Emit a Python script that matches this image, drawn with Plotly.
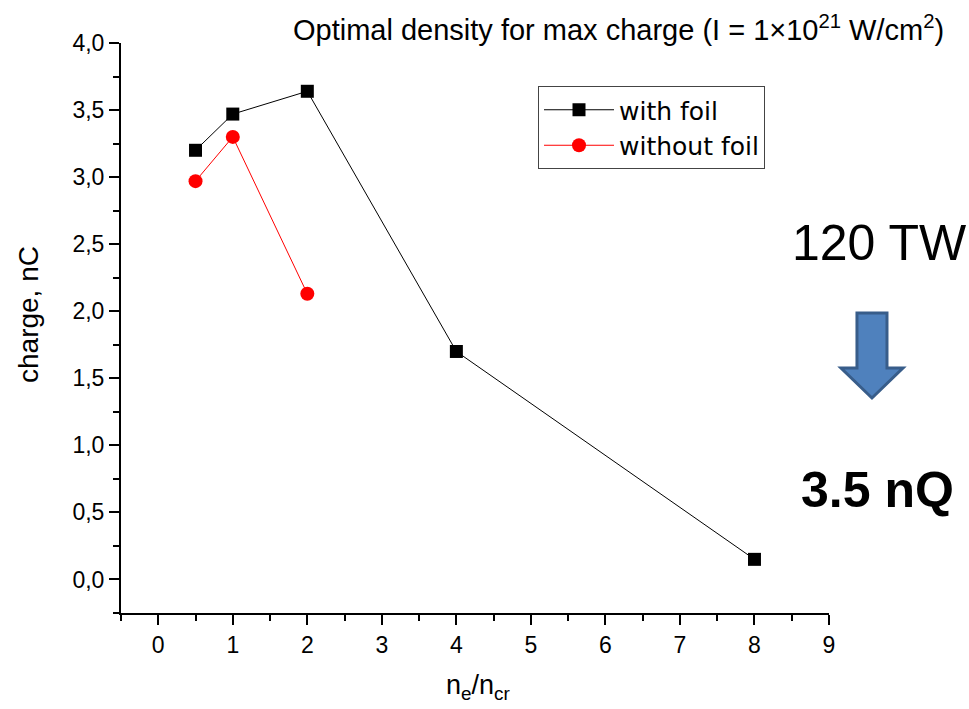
import plotly.graph_objects as go

# Accelerated charge vs. target density (normalised to critical density)
density_foil = [0.5, 1, 2, 4, 8]
charge_foil = [3.20, 3.47, 3.64, 1.70, 0.15]

density_nofoil = [0.5, 1, 2]
charge_nofoil = [2.97, 3.30, 2.13]

x_ticks = list(range(0, 10))
y_ticks = [0.0, 0.5, 1.0, 1.5, 2.0, 2.5, 3.0, 3.5, 4.0]

W, H = 969, 709
ML, MR, MT, MB = 121, 140, 43, 96
PW, PH = W - ML - MR, H - MT - MB


def px(x, y):
    """Convert page pixel position to paper coordinates."""
    return (x - ML) / PW, (H - MB - y) / PH


FONT = "Liberation Sans, Arial, sans-serif"

fig = go.Figure()
fig.add_trace(go.Scatter(
    x=density_foil, y=charge_foil, name="with foil", mode="lines+markers",
    line=dict(color="black", width=1),
    marker=dict(symbol="square", size=13, color="black"),
    legendgroup="a",
))
fig.add_trace(go.Scatter(
    x=density_nofoil, y=charge_nofoil, name="without foil", mode="lines+markers",
    line=dict(color="#ff0000", width=1),
    marker=dict(symbol="circle", size=14, color="#ff0000"),
    legendgroup="b",
))

axis_common = dict(
    showline=True, linecolor="black", linewidth=2, mirror=False,
    showgrid=False, zeroline=False,
    ticks="outside", ticklen=10, tickwidth=2, tickcolor="black",
    tickfont=dict(family=FONT, size=23, color="black"),
)

fig.update_xaxes(
    range=[-0.5, 9], tickvals=x_ticks, ticktext=[str(v) for v in x_ticks],
    minor=dict(dtick=0.5, tick0=0, ticks="outside", ticklen=6, tickwidth=2, tickcolor="black"),
    **axis_common,
)
fig.update_yaxes(
    range=[-0.25, 4.0], tickvals=y_ticks, tickformat=".1f",
    minor=dict(dtick=0.25, tick0=0, ticks="outside", ticklen=6, tickwidth=2, tickcolor="black"),
    **axis_common,
)

lx, ly = px(538, 86)
fig.update_layout(
    width=W, height=H,
    margin=dict(l=ML, r=MR, t=MT, b=MB),
    paper_bgcolor="white", plot_bgcolor="white",
    separators=",.",
    showlegend=True,
    legend=dict(
        x=lx, y=ly, xanchor="left", yanchor="top",
        bordercolor="#444444", borderwidth=1, bgcolor="white",
        font=dict(family="DejaVu Sans, sans-serif", size=25, color="black"),
        traceorder="grouped", tracegroupgap=0, itemwidth=70,
    ),
)

annotations = []
tx, ty = px(946, 28)
annotations.append(dict(
    x=tx, y=ty, xref="paper", yref="paper", xanchor="right", yanchor="middle",
    text="Optimal density for max charge (I = 1×10<sup>21</sup> W/cm<sup>2</sup>)",
    showarrow=False, font=dict(family=FONT, size=29, color="black"),
))
ax_, ay_ = px(28, 314)
annotations.append(dict(
    x=ax_, y=ay_, xref="paper", yref="paper", xanchor="center", yanchor="middle",
    text="charge, nC", textangle=-90, showarrow=False,
    font=dict(family=FONT, size=28, color="black"),
))
bx, by = px(478, 687)
annotations.append(dict(
    x=bx, y=by, xref="paper", yref="paper", xanchor="center", yanchor="middle",
    text="n<sub>e</sub>/n<sub>cr</sub>", showarrow=False,
    font=dict(family=FONT, size=27, color="black"),
))
cx, cy = px(879, 243)
annotations.append(dict(
    x=cx, y=cy, xref="paper", yref="paper", xanchor="center", yanchor="middle",
    text="120 TW", showarrow=False,
    font=dict(family=FONT, size=50, color="black"),
))
dx, dy = px(878, 490)
annotations.append(dict(
    x=dx, y=dy, xref="paper", yref="paper", xanchor="center", yanchor="middle",
    text="<b>3.5 nQ</b>", showarrow=False,
    font=dict(family=FONT, size=50, color="black"),
))
fig.update_layout(annotations=annotations)

# Block arrow pointing down between the two labels
arrow_px = [(857, 313), (887, 313), (887, 368), (903, 368), (872, 398), (841, 368), (857, 368)]
pts = [px(x, y) for x, y in arrow_px]
path = "M " + " L ".join(f"{x:.4f},{y:.4f}" for x, y in pts) + " Z"
fig.add_shape(
    type="path", path=path, xref="paper", yref="paper",
    fillcolor="#4F81BD", line=dict(color="#385D8A", width=3), layer="above",
)

fig.write_html("out.html")
